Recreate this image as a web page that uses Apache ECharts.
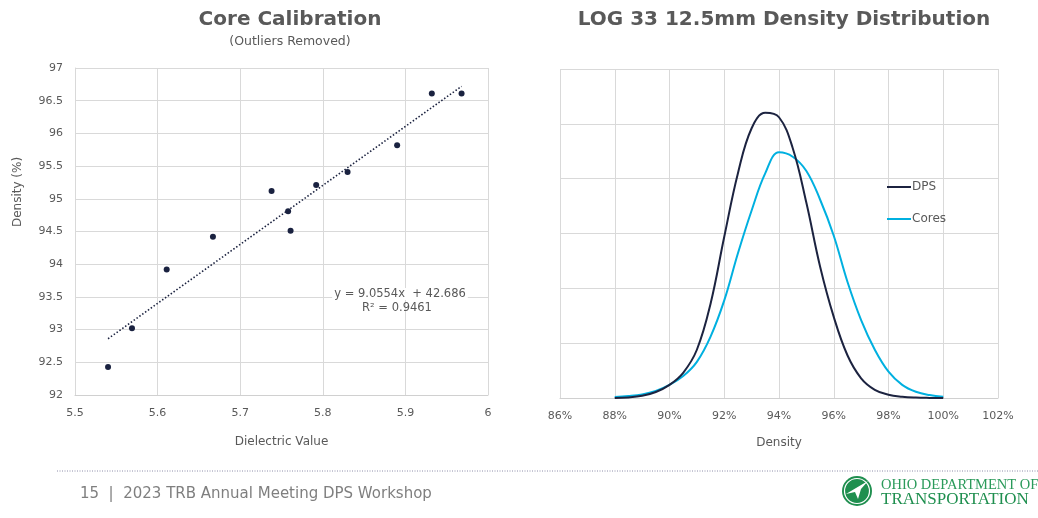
<!DOCTYPE html>
<html>
<head>
<meta charset="utf-8">
<script src="https://cdn.jsdelivr.net/npm/echarts@6/dist/echarts.min.js"></script>
<style>
html,body{margin:0;padding:0;background:#fff;}
#c{width:1038px;height:518px;}
</style>
</head>
<body>
<div id="c"></div>
<script>
// ---- Core Calibration scatter ----
const dielectric = [5.540, 5.569, 5.611, 5.667, 5.738, 5.758, 5.761, 5.792, 5.830, 5.890, 5.932, 5.968];
const coreDensity = [92.43, 93.02, 93.92, 94.42, 95.12, 94.81, 94.51, 95.21, 95.41, 95.82, 96.61, 96.61];
const trendX = [5.540, 5.968];
const trendY = [92.86, 96.72];
const leftXTicks = [5.5, 6.0, 0.1];
const leftYTicks = [92, 97, 0.5];

// ---- LOG 33 density distribution ----
const densityPct = [88, 88.5, 89, 89.5, 90, 90.5, 91, 91.5, 92, 92.5, 93, 93.5, 94, 94.5, 95, 95.5, 96, 96.5, 97, 97.5, 98, 98.5, 99, 99.5, 100];
const dpsCurve = [0.0, 0.05, 0.2, 0.55, 1.2, 2.3, 4.4, 8.6, 14.7, 20.5, 24.6, 26.0, 25.6, 22.8, 17.8, 12.0, 7.4, 3.9, 1.8, 0.75, 0.3, 0.12, 0.04, 0.01, 0.0];
const coresCurve = [0.1, 0.18, 0.33, 0.65, 1.2, 2.0, 3.3, 5.6, 8.9, 13.2, 17.1, 20.5, 22.4, 22.0, 20.7, 18.1, 14.8, 10.6, 7.1, 4.4, 2.4, 1.2, 0.57, 0.27, 0.12];
const rightXTicks = [86, 102, 2];
const rightYTicks = [0, 30, 5];

const seriesNames = ['DPS', 'Cores'];
const texts = {
  leftTitle: 'Core Calibration',
  leftSub: '(Outliers Removed)',
  leftX: 'Dielectric Value',
  leftY: 'Density (%)',
  eq1: 'y = 9.0554x  + 42.686',
  eq2: 'R² = 0.9461',
  rightTitle: 'LOG 33 12.5mm Density Distribution',
  rightX: 'Density',
  footer: '15  |  2023 TRB Annual Meeting DPS Workshop',
  logo1: 'OHIO DEPARTMENT OF',
  logo2: 'TRANSPORTATION'
};

const pair = (xs, ys) => xs.map((x, i) => [x, ys[i]]);
const FONT = '"DejaVu Sans", sans-serif';
const gridLine = {show: true, lineStyle: {color: '#d9d9d9', width: 1}};
const lbl = {color: '#595959', fontSize: 11, fontFamily: FONT};

const chart = echarts.init(document.getElementById('c'), null, {renderer: 'canvas'});
chart.setOption({
  animation: false,
  backgroundColor: '#fff',
  grid: [
    {left: 75, right: 550, top: 68, bottom: 123},
    {left: 560, right: 40, top: 69, bottom: 120}
  ],
  xAxis: [
    {type: 'value', gridIndex: 0, min: leftXTicks[0], max: leftXTicks[1], interval: leftXTicks[2],
     axisLine: {show: true, onZero: false, lineStyle: {color: '#d0d0d0'}}, axisTick: {show: false},
     splitLine: gridLine, axisLabel: Object.assign({margin: 13, formatter: v => String(+v.toFixed(1))}, lbl),
     name: texts.leftX, nameLocation: 'middle', nameGap: 41,
     nameTextStyle: {color: '#595959', fontSize: 12, fontFamily: FONT}},
    {type: 'value', gridIndex: 1, min: rightXTicks[0], max: rightXTicks[1], interval: rightXTicks[2],
     axisLine: {show: true, onZero: false, lineStyle: {color: '#d0d0d0'}}, axisTick: {show: false},
     splitLine: gridLine, axisLabel: Object.assign({margin: 13, formatter: '{value}%'}, lbl),
     name: texts.rightX, nameLocation: 'middle', nameGap: 39,
     nameTextStyle: {color: '#595959', fontSize: 12, fontFamily: FONT}}
  ],
  yAxis: [
    {type: 'value', gridIndex: 0, min: leftYTicks[0], max: leftYTicks[1], interval: leftYTicks[2],
     axisLine: {show: true, lineStyle: {color: '#d9d9d9'}}, axisTick: {show: false},
     splitLine: gridLine, axisLabel: Object.assign({margin: 12, formatter: v => String(+v.toFixed(1))}, lbl)},
    {type: 'value', gridIndex: 1, min: rightYTicks[0], max: rightYTicks[1], interval: rightYTicks[2],
     axisLine: {show: false}, axisTick: {show: false}, axisLabel: {show: false},
     splitLine: gridLine}
  ],
  legend: {
    orient: 'vertical', left: 887, top: 181, itemGap: 20, padding: 0,
    itemWidth: 24, itemHeight: 2,
    icon: 'path://M0,0L24,0L24,2L0,2Z',
    textStyle: {color: '#595959', fontSize: 12, fontFamily: FONT, padding: [0, 0, 0, -4]},
    data: seriesNames
  },
  series: [
    {type: 'scatter', xAxisIndex: 0, yAxisIndex: 0, symbolSize: 6,
     itemStyle: {color: '#1a2240', opacity: 1}, data: pair(dielectric, coreDensity), z: 3},
    {type: 'line', xAxisIndex: 0, yAxisIndex: 0, symbol: 'none', silent: true,
     lineStyle: {color: '#1c2340', width: 1.6, type: [1.5, 2]}, data: pair(trendX, trendY), z: 2},
    {name: seriesNames[0], type: 'line', xAxisIndex: 1, yAxisIndex: 1, symbol: 'none', smooth: 0.4,
     lineStyle: {color: '#1c2340', width: 2}, itemStyle: {color: '#1c2340'},
     data: pair(densityPct, dpsCurve), z: 3},
    {name: seriesNames[1], type: 'line', xAxisIndex: 1, yAxisIndex: 1, symbol: 'none', smooth: 0.4,
     lineStyle: {color: '#00b0e0', width: 2}, itemStyle: {color: '#00b0e0'},
     data: pair(densityPct, coresCurve), z: 2}
  ],
  graphic: [
    {type: 'text', x: 290, y: 20, z: 10, style: {text: texts.leftTitle, fill: '#595959',
      font: 'bold 20px ' + FONT, textAlign: 'center', textVerticalAlign: 'middle'}},
    {type: 'text', x: 290, y: 42, z: 10, style: {text: texts.leftSub, fill: '#595959',
      font: '12.5px ' + FONT, textAlign: 'center', textVerticalAlign: 'middle'}},
    {type: 'text', x: 784, y: 20, z: 10, style: {text: texts.rightTitle, fill: '#595959',
      font: 'bold 20px ' + FONT, textAlign: 'center', textVerticalAlign: 'middle'}},
    {type: 'text', x: 18, y: 192, rotation: Math.PI / 2, z: 10, style: {text: texts.leftY, fill: '#595959',
      font: '12px ' + FONT, textAlign: 'center', textVerticalAlign: 'middle'}},
    {type: 'text', x: 400, y: 294, z: 10, style: {text: texts.eq1, fill: '#595959',
      font: '11.5px ' + FONT, textAlign: 'center', textVerticalAlign: 'middle', backgroundColor: '#fff', padding: [0, 2]}},
    {type: 'text', x: 397, y: 308, z: 10, style: {text: texts.eq2, fill: '#595959',
      font: '11.5px ' + FONT, textAlign: 'center', textVerticalAlign: 'middle'}},
    {type: 'line', z: 10, shape: {x1: 57, y1: 471, x2: 1038, y2: 471},
      style: {stroke: '#8c8ca8', lineWidth: 1, lineDash: [1, 1.5]}},
    {type: 'text', x: 80, y: 494, z: 10, style: {text: texts.footer, fill: '#7f7f7f',
      font: '15px ' + FONT, textAlign: 'left', textVerticalAlign: 'middle'}},
    {type: 'circle', z: 10, shape: {cx: 857, cy: 491, r: 15}, style: {fill: '#1f8f4f'}},
    {type: 'circle', z: 11, shape: {cx: 857, cy: 491, r: 12.5}, style: {fill: 'none', stroke: '#fff', lineWidth: 1.2}},
    {type: 'polygon', z: 11, shape: {points: [[846, 494], [856, 488], [868, 481], [861, 489], [858, 499], [855, 492]]}, style: {fill: '#fff'}},
    {type: 'text', x: 881, y: 485, z: 10, style: {text: texts.logo1, fill: '#2a9a5a',
      font: '14.5px "Liberation Serif", serif', textAlign: 'left', textVerticalAlign: 'middle'}},
    {type: 'text', x: 881, y: 500, z: 10, style: {text: texts.logo2, fill: '#1f8f4f',
      font: '17px "Liberation Serif", serif', textAlign: 'left', textVerticalAlign: 'middle'}}
  ]
});
</script>
</body>
</html>
